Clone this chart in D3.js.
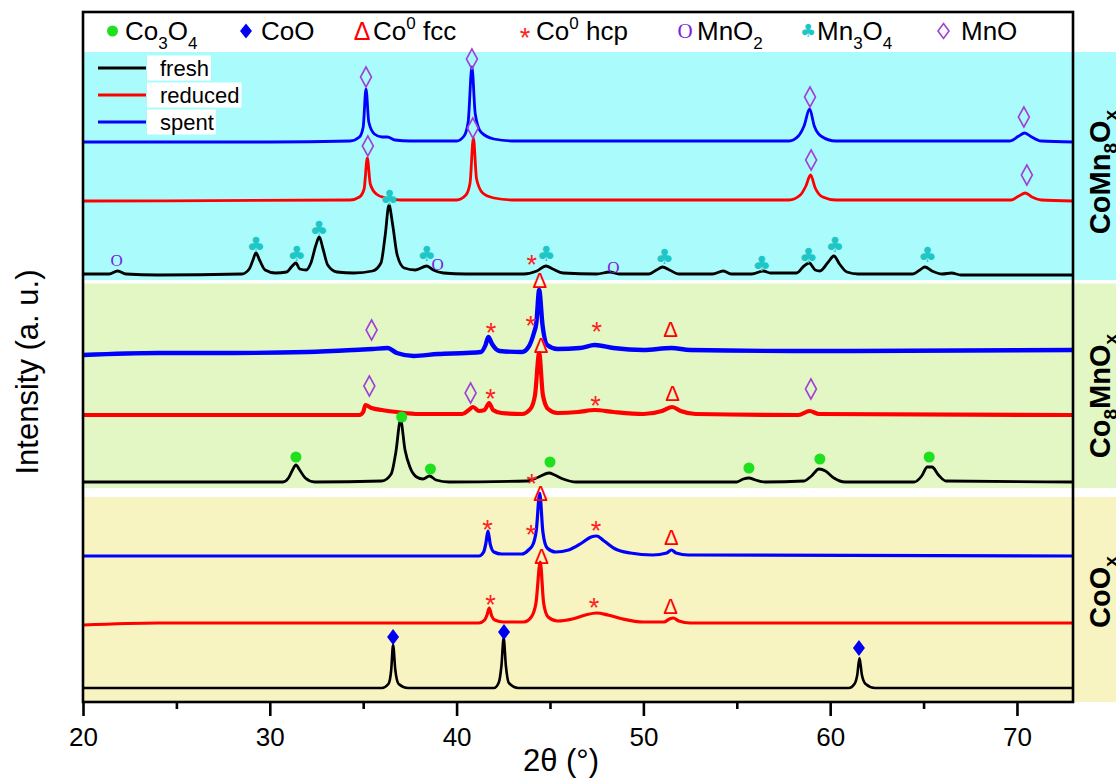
<!DOCTYPE html>
<html><head><meta charset="utf-8">
<script src="https://cdn.jsdelivr.net/npm/d3@7"></script>
<style>html,body{margin:0;padding:0;background:#fff;} svg{display:block;font-family:"Liberation Sans",Arial,sans-serif;}</style>
</head><body><svg id="c" width="1116" height="783"></svg>
<script>
// ---------------- data ----------------
const xDomain = [20, 73];
const majorTicks = [20, 30, 40, 50, 60, 70];
const minorTicks = [25, 35, 45, 55, 65];
const yDomain = [0, 690];               // arbitrary intensity units
const xTitle = "2θ (°)";
const yTitle = "Intensity (a. u.)";
const seriesNames = ["fresh", "reduced", "spent"];
const seriesColors = ["#000000", "#ff0000", "#0000ff"];
const samples = [["CoMn", ["8","sub"], "O", ["x","sub"]], ["Co", ["8","sub"], "MnO", ["x","sub"]], ["CoO", ["x","sub"]]];
// sample band extents (intensity units)
const bandCoMn8 = [422, 650];
const bandCo8Mn = [214, 418.5];
const bandCoO = [0, 205];
const bandColors = ["#aafcfc", "#e2f7c4", "#f7f4c1"];

// vertical offsets of each pattern (intensity units)
const offsets = {coFresh:14, coRed:79, coSpent:146, c8Fresh:220, c8Red:287, c8Spent:349, m8Fresh:427, m8Red:501, m8Spent:560};

// patterns: [2θ, intensity above own offset]
const coFresh = [[20,0],[36.0,0],[36.35,4],[36.5,18],[36.6,43],[36.72,18],[36.9,4],[37.4,0],[42.0,0],[42.25,5],[42.4,22],[42.52,50],[42.64,22],[42.8,5],[43.3,0],[61.0,0],[61.3,4],[61.45,13],[61.57,30],[61.7,13],[61.9,4],[62.4,0],[73,0]];
const coRed = [[20,-2],[24,0],[41.2,0],[41.5,3],[41.63,8],[41.75,15],[41.88,7],[42.05,3],[42.5,1],[43.6,1],[44.0,6],[44.25,20],[44.48,61],[44.66,20],[44.9,6],[45.4,2],[46.2,4],[46.9,8],[47.5,10],[48.1,8],[48.9,4],[50.0,1],[51.1,1],[51.4,4],[51.6,5],[51.9,2],[52.5,0],[73,0]];
const coSpent = [[20,0],[41.2,0],[41.45,4],[41.57,13],[41.68,25],[41.8,12],[42.0,4],[42.4,2],[43.5,2],[43.85,6],[44.1,12],[44.27,26],[44.45,63],[44.62,24],[44.85,8],[45.3,4],[46.0,6],[46.7,13],[47.2,19],[47.5,20],[47.9,15],[48.5,7],[49.3,3],[50.5,1],[51.25,3],[51.5,6],[51.75,3],[52.4,1],[73,0]];
const c8Fresh = [[20,0],[30.7,0],[31.0,4],[31.22,12],[31.4,17],[31.6,12],[31.9,4],[32.4,0],[36.0,1],[36.5,8],[36.75,30],[37.0,62],[37.24,32],[37.5,15],[37.86,5],[38.2,3],[38.55,6],[38.9,2],[39.6,0],[43.8,1],[44.4,5],[44.95,9],[45.25,7],[45.7,3],[46.4,0],[55.0,0],[55.35,3],[55.65,4],[56.0,2],[56.5,0],[58.6,1],[59.0,6],[59.4,13],[59.75,11],[60.2,4],[60.8,0],[64.5,0],[64.9,6],[65.2,15],[65.45,15],[65.8,7],[66.2,1],[73,0]];
const c8Red = [[20,0],[34.8,0],[35.0,3],[35.12,10],[35.45,7],[36.0,5],[36.8,3],[38.0,1],[40.3,1],[40.65,5],[40.88,8],[41.2,4],[41.5,5],[41.74,12],[41.95,5],[42.4,2],[43.5,1],[43.95,6],[44.2,20],[44.42,62],[44.62,20],[44.9,6],[45.4,2],[46.5,3],[47.4,5],[48.4,3],[50.0,1],[51.0,4],[51.55,8],[52.0,4],[52.8,1],[58.3,0],[58.9,4],[59.4,1],[73,0]];
const c8Spent = [[20,-2],[24,0],[28,0],[32,1],[34.5,3],[35.5,4],[36.3,5],[36.8,0],[37.7,-3],[39.0,-1],[40.5,0],[41.3,1],[41.55,8],[41.7,16],[41.9,9],[42.3,2],[43.5,1],[43.85,6],[44.14,20],[44.27,30],[44.42,63],[44.6,28],[44.85,8],[45.4,4],[46.6,5],[47.4,8],[48.4,5],[50.0,3],[51.5,5],[52.5,3],[58,2],[73,3]];
const m8Fresh = [[20,1],[21.4,1],[21.85,4],[22.3,1],[24,0],[28.5,1],[28.9,6],[29.1,15],[29.26,22],[29.45,15],[29.75,5],[30.3,2],[30.9,3],[31.2,9],[31.4,12],[31.6,6],[31.95,5],[32.2,12],[32.47,30],[32.65,38],[32.85,26],[33.1,10],[33.6,3],[34.5,2],[35.5,4],[35.95,12],[36.18,40],[36.38,70],[36.58,50],[36.82,20],[37.2,7],[37.8,5],[38.4,9],[38.75,5],[39.3,2],[40.5,1],[43.6,1],[44.3,4],[44.79,9],[45.15,6],[45.7,2],[47.5,1],[48.2,3],[48.7,1],[50.3,1],[50.7,5],[51.03,8],[51.4,5],[51.9,1],[53.7,1],[54.28,4],[54.7,1],[55.8,1],[56.42,4],[56.8,2],[58.2,2],[58.6,9],[58.88,12],[59.2,5],[59.45,4],[59.9,13],[60.2,19],[60.5,11],[60.9,3],[61.5,1],[64.4,1],[64.8,5],[65.07,8],[65.45,4],[66.0,1],[66.5,2],[67.0,0],[73,0]];
const m8Red = [[20,0],[34.3,1],[34.8,4],[35.05,12],[35.22,43],[35.38,17],[35.7,7],[36.2,3],[37.0,1],[40.0,1],[40.5,6],[40.72,18],[40.9,63],[41.07,22],[41.4,8],[42.0,3],[43.0,1],[57.8,1],[58.4,6],[58.7,15],[58.95,26],[59.2,13],[59.6,4],[60.3,1],[69.7,1],[70.1,5],[70.45,8],[70.8,4],[71.3,1],[73,0]];
const m8Spent = [[20,0],[30,0],[34.3,1],[34.8,5],[35.0,15],[35.15,53],[35.3,20],[35.6,8],[36.0,5],[36.3,5],[36.7,2],[37.5,1],[40.0,1],[40.4,6],[40.62,20],[40.82,75],[41.0,28],[41.3,10],[42.0,3],[43.0,1],[57.8,1],[58.3,6],[58.6,16],[58.9,33],[59.15,16],[59.5,6],[60.3,1],[69.6,1],[70.1,6],[70.4,9],[70.7,6],[71.3,1],[73,0]];

// phase markers: [2θ, intensity]
const mkMnO = [[35.15,625],[40.82,643],[58.92,605],[70.37,585],[35.25,556],[40.87,574],[58.98,542],[70.53,527],[35.45,372],[35.33,316],[40.75,309],[58.97,313]];
const mkMnO2 = [[21.8,442],[38.98,438],[48.39,435]];
const mkMn3O4 = [[29.26,458],[31.44,449],[32.63,474],[36.4,505],[38.4,449],[44.79,449],[51.12,446],[56.33,439],[58.83,447],[60.26,458],[65.2,448]];
const mkCo3O4 = [[31.4,245],[37.06,285],[38.6,233],[45.0,240],[55.65,234],[59.45,243],[65.3,245]];
const mkCoO = [[36.6,65],[42.54,70],[61.54,54]];
const mkFcc = [[44.46,422],[51.46,373],[44.52,357],[51.56,309],[44.5,209],[51.5,165],[44.55,146],[51.46,96]];
const mkHcp = [[44.02,444],[41.84,376],[43.97,383],[47.5,377],[41.82,310],[47.44,303],[44.02,225],[41.66,179],[43.98,174],[47.46,178],[41.82,104],[47.36,101]];
const phaseLegend = [
  ["dot", ["Co",["3","sub"],"O",["4","sub"]]],
  ["fdiamond", ["CoO"]],
  ["delta", ["Co",["0","sup"]," fcc"]],
  ["ast", ["Co",["0","sup"]," hcp"]],
  ["o", ["MnO",["2","sub"]]],
  ["club", ["Mn",["3","sub"],"O",["4","sub"]]],
  ["odiamond", ["MnO"]]
];

// ---------------- drawing ----------------
const svg = d3.select("#c");
const L = 83, R = 1073, T = 12, B = 702;
const x = d3.scaleLinear().domain(xDomain).range([L, R]);
const y = d3.scaleLinear().domain(yDomain).range([B, T]);

// bands (extend to the right beyond the frame)
[bandCoMn8, bandCo8Mn, bandCoO].forEach((b, i) => {
  svg.append("rect").attr("x", L).attr("width", 1116 - L)
    .attr("y", y(b[1])).attr("height", y(b[0]) - y(b[1]))
    .attr("fill", bandColors[i]);
});

svg.append("defs").append("clipPath").attr("id", "clip")
  .append("rect").attr("x", L).attr("y", T).attr("width", R - L).attr("height", B - T);

const traces = [
  [coFresh, offsets.coFresh, 0, 2.6], [coRed, offsets.coRed, 1, 3.2], [coSpent, offsets.coSpent, 2, 3.2],
  [c8Fresh, offsets.c8Fresh, 0, 2.8], [c8Red, offsets.c8Red, 1, 4.2], [c8Spent, offsets.c8Spent, 2, 4.4],
  [m8Fresh, offsets.m8Fresh, 0, 2.8], [m8Red, offsets.m8Red, 1, 2.8], [m8Spent, offsets.m8Spent, 2, 2.8]
];
const line = d3.line().curve(d3.curveMonotoneX);
const tg = svg.append("g").attr("clip-path", "url(#clip)");
traces.forEach(([pts, off, ci, w]) => {
  tg.append("path")
    .attr("d", line(pts.map(p => [x(p[0]), y(p[1] + off)])))
    .attr("fill", "none").attr("stroke", seriesColors[ci])
    .attr("stroke-width", w).attr("stroke-linejoin", "round");
});

// symbols
function diamondPath(cx, cy, w, h) {
  const p = d3.path();
  p.moveTo(cx, cy - h / 2); p.lineTo(cx + w / 2, cy); p.lineTo(cx, cy + h / 2); p.lineTo(cx - w / 2, cy); p.closePath();
  return p.toString();
}
function sym(g, type, cx, cy, leg) {
  let fs;
  switch (type) {
    case "dot":
      g.append("circle").attr("cx", cx).attr("cy", cy).attr("r", 5.5).attr("fill", "#1ee01e"); break;
    case "fdiamond":
      g.append("path").attr("d", diamondPath(cx, cy, 12, leg ? 15 : 16)).attr("fill", "#0000ee"); break;
    case "odiamond":
      g.append("path").attr("d", diamondPath(cx, cy, 11, leg ? 15 : 20)).attr("fill", "none")
        .attr("stroke", "#a040d8").attr("stroke-width", 1.6); break;
    case "delta":
      fs = leg ? 25 : 22;
      g.append("text").attr("x", cx).attr("y", cy + 0.36 * fs).attr("text-anchor", "middle")
        .attr("font-size", fs).attr("fill", "#ff0000").text("Δ"); break;
    case "ast":
      fs = 27;
      g.append("text").attr("x", cx).attr("y", cy + 0.58 * fs).attr("text-anchor", "middle")
        .attr("font-size", fs).attr("fill", "#ff2020").text("*"); break;
    case "club":
      fs = leg ? 18 : 21;
      g.append("text").attr("x", cx).attr("y", cy + 0.36 * fs).attr("text-anchor", "middle")
        .attr("font-family", "DejaVu Sans").attr("font-size", fs).attr("fill", "#1fc6c6").text("♣"); break;
    case "o":
      fs = leg ? 21 : 17;
      g.append("text").attr("x", cx).attr("y", cy + 0.33 * fs).attr("text-anchor", "middle")
        .attr("font-family", "Liberation Serif").attr("font-size", fs).attr("fill", "#7b22dd").text("O"); break;
  }
}
const mg = svg.append("g");
[[mkMnO, "odiamond"], [mkMnO2, "o"], [mkMn3O4, "club"], [mkCo3O4, "dot"], [mkCoO, "fdiamond"], [mkFcc, "delta"], [mkHcp, "ast"]]
  .forEach(([arr, t]) => arr.forEach(d => sym(mg, t, x(d[0]), y(d[1]), false)));

// rich text with sub/sup
function rich(textSel, parts, fs, subFs, subDy, supDy) {
  let shift = 0;
  parts.forEach(p => {
    if (typeof p === "string") {
      textSel.append("tspan").attr("dy", -shift).attr("font-size", fs).text(p); shift = 0;
    } else {
      const d = p[1] === "sub" ? subDy : supDy;
      textSel.append("tspan").attr("dy", d - shift).attr("font-size", subFs).text(p[0]); shift = d;
    }
  });
}

// phase legend (top strip)
const legSymX = [112.5, 246, 362, 525, 685, 808, 943.5];
const legTxtX = [125, 261, 373, 536, 697, 817, 961];
const lg = svg.append("g");
phaseLegend.forEach((d, i) => {
  sym(lg, d[0], legSymX[i], 31, true);
  const t = lg.append("text").attr("x", legTxtX[i]).attr("y", 40).attr("fill", "#000");
  rich(t, d[1], 26, 17, 9, -11);
});

// series legend
const sg = svg.append("g");
seriesNames.forEach((n, i) => {
  const yy = 68 + i * 27;
  const t = sg.append("text").attr("x", 160).attr("y", yy + 8).attr("font-size", 22).text(n);
  const w = t.node().getComputedTextLength();
  sg.insert("rect", "text").attr("x", 147).attr("y", yy - 12.5).attr("width", w + 15).attr("height", 25).attr("fill", "#fff");
  sg.append("line").attr("x1", 98).attr("x2", 146).attr("y1", yy).attr("y2", yy)
    .attr("stroke", seriesColors[i]).attr("stroke-width", 3);
});

// frame
svg.append("rect").attr("x", L).attr("y", T).attr("width", R - L).attr("height", B - T)
  .attr("fill", "none").attr("stroke", "#000").attr("stroke-width", 2.6);

// x axis
const axis = svg.append("g").attr("transform", `translate(0,${B})`)
  .call(d3.axisBottom(x).tickValues(majorTicks).tickSize(14).tickPadding(12).tickFormat(d3.format("d")));
axis.select(".domain").remove();
axis.selectAll(".tick line").attr("stroke", "#000").attr("stroke-width", 2.6);
axis.selectAll(".tick text").attr("font-size", 26).attr("font-family", "Liberation Sans").attr("fill", "#000");
const minor = svg.append("g").attr("transform", `translate(0,${B})`)
  .call(d3.axisBottom(x).tickValues(minorTicks).tickSize(7).tickFormat(""));
minor.select(".domain").remove();
minor.selectAll(".tick line").attr("stroke", "#000").attr("stroke-width", 2.6);

// titles
svg.append("text").attr("x", 561).attr("y", 771).attr("text-anchor", "middle").attr("font-size", 31).text(xTitle);
svg.append("text").attr("transform", "translate(38,372) rotate(-90)").attr("text-anchor", "middle").attr("font-size", 31).text(yTitle);

// sample labels on the right
const labCY = [172, 396, 592];
samples.forEach((parts, i) => {
  const t = svg.append("text").attr("transform", `translate(1110,${labCY[i]}) rotate(-90)`)
    .attr("text-anchor", "middle").attr("font-weight", "bold").attr("fill", "#000");
  rich(t, parts, 29, 19, 7, -10);
});
</script></body></html>
